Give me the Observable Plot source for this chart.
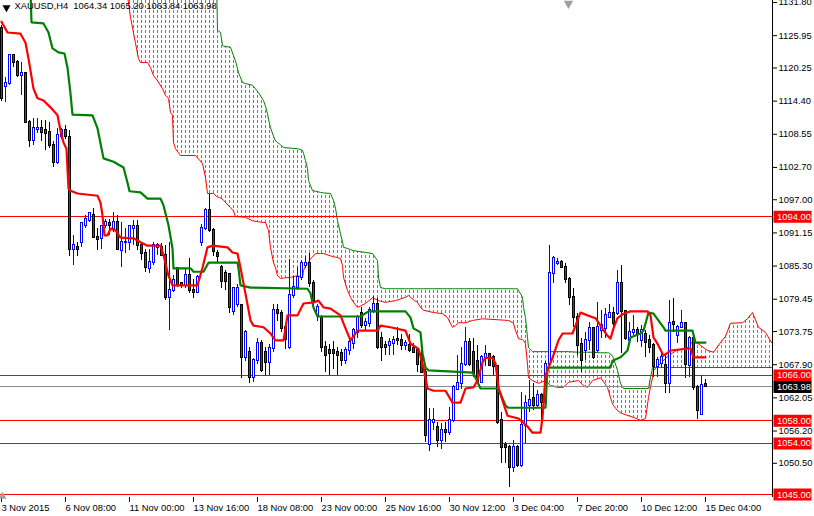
<!DOCTYPE html>
<html><head><meta charset="utf-8">
<script src="https://cdn.jsdelivr.net/npm/d3@7"></script>
<script src="https://cdn.jsdelivr.net/npm/@observablehq/plot@0.6"></script>
<style>
html,body{margin:0;padding:0;background:#fff;}
#chart{width:814px;height:516px;overflow:hidden;}
</style></head><body><div id="chart"></div>
<script>
// ---- OHLC (H4 bars, index 0 = 3 Nov 2015 16:00 ... 176 = 15 Dec 04:00)
const open=[1127.2,1116.9,1117.5,1122.4,1121.3,1118.9,1119.2,1110.7,1107.4,1109.4,1109.5,1109.2,1108.9,1106.6,1103.6,1108.1,1109.2,1108.0,1088.3,1088.6,1089.5,1092.5,1093.3,1094.3,1090.4,1090.1,1092.5,1092.8,1091.9,1093.0,1088.0,1089.4,1089.5,1091.9,1092.2,1088.9,1087.5,1084.8,1086.0,1088.6,1088.6,1087.2,1079.8,1081.0,1084.8,1082.2,1081.9,1083.6,1081.0,
1080.7,1089.5,1092.0,1095.1,1091.6,1087.5,1085.1,1083.9,1083.8,1077.2,1078.6,1078.3,1069.2,1070.1,1065.7,1068.6,1071.6,1070.1,1068.3,1070.7,1077.5,1076.9,1074.5,
1071.0,1080.1,1081.6,1083.3,1085.4,1085.7,1082.2,1076.6,1076.3,1071.0,1070.4,1070.4,1070.1,1069.8,1068.6,1070.4,1071.6,1073.6,1076.9,1074.8,1075.1,1077.5,1078.6,1072.5,1071.2,
1071.3,1071.6,1072.4,1072.2,1071.3,1071.3,1070.7,1070.4,1069.5,1066.6,1053.9,1057.7,1056.9,1054.5,1056.3,1056.0,1058.0,1063.6,1064.5,1068.0,1071.9,1070.1,1068.4,1064.8,1069.0,1069.7,1069.2,1067.5,1058.0,1053.6,1053.3,1049.8,1053.3,1050.1,1057.2,1060.7,1061.9,1060.7,1062.5,1061.3,1068.0,1083.9,1085.7,1086.0,1085.1,1083.0,1079.8,1076.3,1071.5,
1070.4,1072.2,1074.2,1070.4,1073.9,1074.2,1076.3,1076.9,1076.9,1082.2,1077.2,1072.2,1073.6,1073.9,1072.2,1073.3,1072.2,1071.3,1067.5,1068.1,1067.8,1064.5,1075.3,1073.0,1074.5,1075.1,1067.8,1072.5,1063.9,1059.2,1064.34];
const high=[1127.8,1118.6,1122.7,1122.7,1121.5,1121.3,1119.5,1111.0,1111.3,1111.3,1111.0,1111.0,1110.7,1107.2,1109.5,1109.5,1110.1,1109.2,1090.7,1089.5,1093.0,1094.2,1094.8,1095.5,1091.9,1092.5,1093.6,1093.6,1094.8,1094.2,1093.0,1091.9,1092.5,1093.3,1093.3,1089.5,1088.3,1088.3,1089.5,1089.2,1089.2,1088.9,1089.5,1083.6,1085.1,1082.4,1084.8,1086.6,1083.0,
1083.6,1092.6,1095.4,1098.0,1092.0,1088.0,1085.4,1084.5,1084.0,1081.6,1082.0,1078.6,1073.9,1071.0,1069.0,1072.5,1072.2,1071.0,1071.5,1078.6,1078.5,1077.5,1075.0,
1086.5,1083.5,1085.0,1086.2,1087.0,1087.5,1082.8,1078.6,1076.6,1072.0,1071.5,1072.0,1071.0,1070.5,1071.0,1072.5,1074.2,1076.6,1078.0,1076.0,1078.0,1080.0,1079.5,1073.5,1072.0,
1072.5,1072.8,1074.5,1073.3,1072.2,1073.3,1071.6,1070.7,1071.3,1067.0,1060.1,1060.1,1057.7,1057.5,1057.7,1060.4,1064.2,1069.5,1071.0,1074.5,1072.5,1072.5,1071.3,1069.5,1071.3,1069.8,1069.5,1067.8,1059.5,1054.2,1053.6,1054.5,1053.6,1063.0,1062.5,1065.1,1064.5,1063.3,1062.8,1068.4,1088.9,1086.9,1086.6,1086.3,1085.7,1083.3,1081.3,1076.9,1072.5,
1073.6,1075.4,1074.5,1078.9,1077.5,1077.8,1078.6,1078.0,1084.5,1085.4,1077.5,1075.4,1076.6,1074.5,1074.8,1073.9,1073.0,1071.6,1069.2,1070.1,1069.8,1079.2,1079.5,1074.8,1077.5,1075.4,1072.8,1073.3,1064.2,1066.0,1065.20];
const low=[1114.3,1114.2,1117.2,1120.4,1118.6,1115.4,1110.4,1106.3,1106.6,1108.6,1107.2,1105.7,1106.0,1102.7,1103.3,1107.7,1107.7,1086.9,1085.4,1086.9,1088.6,1091.9,1093.0,1090.1,1088.0,1088.3,1091.9,1090.7,1091.3,1088.0,1085.1,1087.5,1088.0,1088.9,1088.0,1086.3,1084.2,1083.9,1085.4,1087.2,1086.9,1079.2,1073.9,1080.7,1081.6,1081.3,1081.3,1080.4,1079.5,
1080.4,1088.8,1091.5,1091.3,1086.9,1085.9,1081.3,1081.0,1077.0,1076.6,1078.0,1065.4,1068.5,1064.5,1064.8,1068.0,1066.5,1065.8,1065.8,1070.0,1075.5,1073.5,1070.5,
1070.5,1079.5,1081.0,1082.8,1084.8,1081.5,1078.0,1075.5,1070.0,1066.5,1066.0,1067.0,1066.0,1067.5,1068.0,1069.5,1070.5,1072.5,1074.2,1074.0,1074.5,1077.0,1070.5,1068.5,1069.5,
1069.5,1069.5,1071.3,1070.4,1070.4,1070.1,1069.8,1066.6,1066.3,1054.2,1052.5,1056.3,1053.3,1053.0,1054.2,1055.4,1057.7,1063.3,1063.6,1067.5,1067.5,1065.7,1064.5,1064.5,1067.5,1067.5,1066.0,1057.4,1050.4,1050.4,1046.3,1048.9,1049.8,1049.8,1053.9,1059.5,1059.8,1060.4,1057.7,1060.7,1067.5,1082.2,1085.4,1084.8,1082.2,1078.3,1074.5,1069.5,1066.5,
1068.6,1070.4,1068.9,1070.1,1072.5,1072.5,1076.0,1074.2,1076.6,1069.8,1072.2,1071.9,1073.0,1071.9,1071.0,1069.2,1069.8,1065.7,1065.7,1067.2,1062.8,1062.8,1073.5,1071.6,1074.2,1065.4,1065.7,1063.3,1058.3,1059.2,1063.84];
const close=[1114.8,1117.5,1122.4,1121.3,1118.9,1119.2,1110.7,1107.4,1109.5,1109.6,1108.9,1108.6,1106.6,1103.6,1108.3,1109.2,1108.1,1088.3,1088.9,1088.2,1092.8,1093.6,1094.5,1090.4,1090.0,1092.2,1093.0,1092.5,1093.0,1088.3,1089.5,1089.5,1092.2,1092.2,1088.9,1087.5,1085.1,1086.0,1088.9,1088.9,1087.2,1079.8,1081.0,1082.8,1081.9,1081.9,1083.6,1081.0,1080.7,
1083.3,1092.0,1095.1,1091.6,1087.8,1086.9,1082.5,1082.5,1078.0,1081.3,1081.3,1069.2,1073.6,1065.7,1068.6,1071.6,1066.9,1068.3,1070.7,1077.5,1076.9,1074.2,1072.4,
1080.1,1081.6,1083.3,1085.7,1085.7,1082.2,1079.2,1078.0,1071.0,1069.5,1069.9,1069.8,1069.5,1068.6,1070.4,1071.9,1073.9,1076.3,1074.8,1075.4,1077.5,1078.6,1071.0,1071.0,1071.0,
1071.9,1072.2,1072.1,1071.3,1071.6,1070.4,1070.1,1068.0,1066.6,1055.4,1058.0,1058.0,1054.5,1056.3,1056.0,1058.0,1063.9,1064.5,1068.0,1071.9,1068.0,1066.3,1064.8,1069.2,1069.7,1067.7,1067.5,1057.7,1053.3,1053.3,1049.8,1053.3,1050.1,1057.2,1061.0,1061.6,1060.7,1062.5,1061.3,1068.0,1083.9,1086.6,1086.0,1085.1,1083.0,1079.8,1076.3,1071.3,1068.6,
1072.2,1074.2,1069.2,1074.5,1074.8,1076.6,1076.9,1075.1,1082.2,1077.2,1072.5,1073.6,1073.9,1073.3,1073.9,1071.9,1071.0,1067.5,1068.6,1069.2,1064.5,1075.1,1075.0,1074.5,1075.1,1068.0,1072.5,1063.9,1059.8,1064.2,1063.98];

// ---- Ichimoku lines (bar position, price)
const tenkanX=[0,1.5,4.75,6,6.75,8,9,10.5,12.25,14,14.75,15.5,16.25,16.75,17.25,19,24,24.75,25.25,25.75,26.5,27.25,28.5,29.75,33,34.75,36.5,39.75,40.5,41.75,42.75,49,50.25,51.5,52.75,56.5,57.75,59,59.75,61,62.25,63,65.5,67.25,68.5,70.5,71.5,74,75.5,78,79.25,80.5,82.25,84.75,85.5,87.25,89,94,94.75,97.25,101,102.25,104.25,105.5,106.5,108,111,112.75,114.75,116,118,119,120.25,121,122.75,123.5,124.25,125.25,126.5,129.25,131.5,132.75,134.75,135.25,136,137.75,139.25,140.25,142.75,144,144.75,146.5,148.5,149.75,151.5,152.25,153,154,155.5,157.25,161.5,162.25,163,164,165.5,166.5,167.25,172.25,173,176];
const tenkanY=[1128.4,1126.5,1126.3,1124.7,1121.9,1116.6,1114.9,1114.5,1113.3,1111.9,1109.2,1107.1,1106.0,1099.0,1098.6,1098.1,1097.7,1096.5,1094.2,1090.7,1090.7,1091.9,1091.6,1090.3,1090.2,1089.5,1088.9,1088.9,1087.2,1083.6,1081.9,1081.9,1085.0,1088.6,1088.9,1088.6,1087.7,1087.5,1085.0,1080.4,1075.7,1074.8,1074.5,1073.4,1072.2,1072.2,1076.6,1076.6,1078.7,1078.9,1079.2,1078.0,1077.8,1076.6,1075.2,1072.2,1073.9,1073.9,1074.8,1074.5,1073.9,1071.6,1070.7,1067.4,1063.7,1063.3,1063.3,1061.2,1061.2,1063.7,1063.9,1065.1,1068.3,1069.1,1069.1,1068.1,1063.9,1061.6,1058.9,1058.4,1057.0,1055.9,1055.9,1058.6,1066.0,1069.1,1072.2,1073.4,1073.4,1075.7,1077.1,1076.6,1076.1,1074.8,1073.0,1072.5,1074.3,1076.1,1076.9,1077.3,1077.3,1076.6,1072.7,1071.6,1069.5,1070.0,1070.4,1070.8,1069.2,1069.2];
const kijunX=[0,7.25,7.5,10.5,11.75,12.75,14.25,15.75,16.5,17.25,17.75,22.75,24,25.5,28,30.5,31.5,32,34.75,36.5,39.75,40.5,41.75,42.75,43,47.25,48,50.5,51.75,59,59.25,59.75,62.25,76.5,77.25,78,79,89.75,91.75,101,102.25,103,104.75,105.25,106,106.75,117.75,118.5,119.75,124,124.75,126,126.75,136,136.5,152.25,152.75,154.75,156.5,157.25,159.75,160.5,161.75,163,165.5,166,172.75,173.5,176];
const kijunY=[1133.9,1133.9,1128.3,1128.1,1126.5,1123.7,1123.0,1122.8,1120.3,1115.7,1112.0,1111.9,1109.6,1104.3,1103.7,1102.7,1100.0,1098.5,1098.3,1097.2,1097.2,1096.0,1092.5,1088.4,1084.9,1084.9,1084.3,1084.3,1085.9,1085.9,1084.9,1081.9,1081.5,1081.3,1080.5,1078.0,1076.4,1076.4,1077.3,1077.3,1076.2,1074.3,1073.6,1069.9,1067.4,1066.9,1066.5,1065.6,1063.7,1063.7,1062.8,1060.7,1060.3,1060.3,1067.4,1067.4,1068.6,1069.2,1070.4,1072.7,1073.4,1073.9,1077.1,1076.9,1074.5,1073.9,1073.9,1071.8,1071.8];
const cloudX=[31.5,32.25,33.5,34.25,34.75,36.5,37.25,38,39,40.25,41,41.75,42.25,42.75,43,43.5,44.75,48.5,50.25,51,51.5,53,53.75,54,54.75,55.25,55.5,57.25,58,58.5,59.25,60.25,61,62.75,64.25,65.5,66,66.5,66.75,67.25,68,68.5,69,69.75,70.5,72.25,74,75.25,75.5,76,76.5,76.75,77.25,77.75,78.5,79.75,80.5,82.25,83,83.5,84,84.75,85.25,85.5,86.5,87.25,88,89,91,92.75,94,94.25,94.75,96,98.5,101,101.75,103.25,104,104.75,105.5,108,110.25,111.5,112.75,113.5,114.25,116,117.75,120.25,126.75,128,128.5,129,129.25,130.25,130.5,131,131.5,131.75,132.75,134.25,136,137.25,139,140.5,141.75,144.25,145.5,146.5,147.75,149.75,151.5,151.75,152.25,152.75,153,154,154.75,155.5,158,159.75,161,161.75,162.25,162.75,163,164.75,166.75,168.75,171.5,173,174.75,176.5,178,179.75,181,182.25,185.25,186.5,187.75,189.25,191,192.5];
const spanA=[1133.0,1129.2,1124.6,1121.9,1121.2,1121.2,1120.3,1118.9,1118.0,1116.6,1115.4,1114.9,1112.4,1111.9,1107.1,1106.0,1104.8,1104.8,1103.4,1100.9,1098.1,1098.1,1097.6,1097.5,1097.3,1097.1,1096.9,1095.6,1095.0,1094.0,1094.0,1093.95,1093.9,1093.3,1093.1,1093.0,1093.0,1092.0,1091.6,1088.6,1085.9,1085.0,1083.6,1083.1,1083.2,1083.3,1083.6,1083.3,1084.5,1085.3,1085.7,1086.0,1086.6,1086.9,1087.5,1087.5,1087.5,1087.1,1086.9,1086.9,1086.8,1086.6,1085.4,1083.3,1081.0,1079.8,1078.9,1078.0,1078.7,1079.7,1079.3,1079.2,1079.1,1078.9,1079.2,1079.8,1080.1,1079.2,1078.9,1078.0,1077.5,1077.1,1076.9,1076.2,1074.5,1074.8,1075.3,1075.3,1075.7,1076.0,1075.7,1075.2,1073.9,1073.0,1072.5,1072.3,1072.2,1071.6,1068.0,1065.6,1065.1,1064.6,1065.1,1064.2,1063.9,1063.9,1064.8,1065.1,1064.2,1063.9,1065.1,1065.6,1063.9,1063.3,1062.1,1061.0,1060.7,1059.8,1059.4,1059.2,1058.6,1058.1,1058.4,1062.1,1064.0,1065.6,1066.9,1068.1,1069.5,1070.4,1070.9,1072.2,1071.3,1070.4,1070.1,1071.8,1072.9,1075.2,1075.3,1076.0,1077.1,1074.5,1073.6,1071.8];
const spanB=[1136,1136,1136,1136,1136,1136,1136,1136,1136,1136,1136,1136,1136,1136,1136,1136,1136,1136,1136,1136,1136,1136,1136,1126.9,1126.5,1124.2,1124.1,1123.9,1122.4,1121.5,1119.4,1117.7,1117.5,1117.2,1115.9,1114.5,1113.5,1112.2,1111.2,1109.7,1108.2,1107.4,1107.1,1106.7,1106.2,1106.1,1106.0,1105.7,1105.2,1103.9,1102.5,1100.4,1099.5,1098.6,1098.5,1098.3,1098.2,1098.1,1096.9,1095.5,1093.3,1091.0,1089.5,1088.6,1088.4,1088.2,1088.0,1087.9,1087.7,1087.5,1086.3,1083.3,1081.5,1081.3,1081.3,1081.3,1081.3,1081.3,1081.3,1081.3,1081.3,1081.3,1081.3,1081.3,1081.3,1081.3,1081.3,1081.3,1081.3,1081.3,1081.3,1081.3,1081.3,1081.3,1081.0,1079.8,1078.0,1076.2,1072.7,1070.9,1070.2,1070.2,1070.2,1070.2,1070.2,1070.2,1070.2,1070.1,1070.1,1070.1,1070.1,1070.0,1070.0,1070.0,1069.8,1069.4,1069.0,1066.9,1064.6,1063.7,1063.7,1063.7,1063.7,1063.7,1065.6,1067.4,1067.4,1067.4,1067.4,1067.4,1067.4,1067.4,1067.4,1067.4,1067.4,1067.4,1067.4,1067.4,1067.4,1067.4,1067.4,1067.4,1067.4,1067.4];

// ---- levels, axis ticks, labels
const levels=[1094.00,1066.00,1058.00,1054.00,1045.00];
const lastPrice=1063.98;
const yTicks=[1131.80,1125.95,1120.25,1114.40,1108.55,1102.70,1097.00,1091.15,1085.30,1079.45,1073.75,1067.90,1062.05,1056.20,1050.50];
const xTickBars=[0,16,32,48,64,80,96,112,128,144,160,176];
const xTickLabels=["3 Nov 2015","6 Nov 08:00","11 Nov 00:00","13 Nov 16:00","18 Nov 08:00","23 Nov 00:00","25 Nov 16:00","30 Nov 12:00","3 Dec 04:00","7 Dec 20:00","10 Dec 12:00","15 Dec 04:00"];
const titleText="XAUUSD,H4  1064.34 1065.20 1063.84 1063.98";

// ---- build tables
const candles=open.map((o,i)=>({i,o,h:high[i],l:low[i],c:close[i]}));
const bull=d=>d.c>=d.o;
const tenkan=tenkanX.map((x,k)=>({x,y:tenkanY[k]}));
const kijun=kijunX.map((x,k)=>({x,y:kijunY[k]}));
const cloud=cloudX.map((x,k)=>({x,a:spanA[k],b:spanB[k]}));
const labelOf=new Map(xTickBars.map((b,k)=>[b,xTickLabels[k]]));
const xDom=[-0.25,192.75];
const yDom=[1044.47,1132.15];
const boxX1=193.125, boxX2=202.625, boxTextX=193.9;

const chart=Plot.plot({
  width:814,height:516,marginTop:0,marginLeft:0,marginRight:42,marginBottom:19,
  x:{domain:xDom,axis:null},
  y:{domain:yDom,axis:null},
  style:{fontFamily:"'Liberation Sans', Arial, sans-serif",fontSize:"9.4px",background:"#ffffff",color:"#000"},
  marks:[
    Plot.areaY(cloud,{x:"x",y1:"a",y2:d=>Math.max(d.a,d.b),fill:"url(#hatchOrange)",clip:true}),
    Plot.areaY(cloud,{x:"x",y1:"b",y2:d=>Math.max(d.a,d.b),fill:"url(#hatchGreen)",clip:true}),
    Plot.line(cloud,{x:"x",y:"a",stroke:"#ff0000",strokeWidth:1,clip:true}),
    Plot.line(cloud,{x:"x",y:"b",stroke:"#008000",strokeWidth:1,clip:true}),
    Plot.ruleY(levels,{stroke:"#ff0000",strokeWidth:1,shapeRendering:"crispEdges"}),
    Plot.ruleY([lastPrice],{stroke:"#8c8c8c",strokeWidth:1,shapeRendering:"crispEdges"}),
    Plot.ruleX(candles,{x:"i",y1:"l",y2:"h",stroke:d=>bull(d)?"#0000ff":"#000000",strokeWidth:1,shapeRendering:"crispEdges",clip:true}),
    Plot.rect(candles,{x1:d=>d.i-0.25,x2:d=>d.i+0.25,y1:"o",y2:"c",fill:d=>bull(d)?"#ffffff":"#ff0000",stroke:d=>bull(d)?"#0000ff":"#000000",strokeWidth:1,insetTop:-0.5,insetBottom:-0.5,shapeRendering:"crispEdges",clip:true}),
    Plot.line(kijun,{x:"x",y:"y",stroke:"#008000",strokeWidth:2.2,clip:true}),
    Plot.line(tenkan,{x:"x",y:"y",stroke:"#ff0000",strokeWidth:2.2,clip:true}),
    Plot.ruleX([xDom[1]],{stroke:"#000",strokeWidth:1,shapeRendering:"crispEdges"}),
    Plot.axisY(yTicks,{anchor:"right",tickSize:4,tickPadding:2,tickFormat:d=>d.toFixed(2),fill:"#000",stroke:"#000"}),
    Plot.axisX(xTickBars,{anchor:"bottom",tickSize:5,tickPadding:2,tickFormat:d=>labelOf.get(d),textAnchor:"start",fill:"#000",stroke:"#000"}),
    Plot.ruleY(levels,{x1:boxX1,x2:boxX2,stroke:"#ff0000",strokeWidth:12,clip:false}),
    Plot.text(levels,{x:boxTextX,y:d=>d,text:d=>d.toFixed(2),fill:"#ffffff",textAnchor:"start",clip:false}),
    Plot.ruleY([lastPrice],{x1:boxX1,x2:boxX2,stroke:"#000000",strokeWidth:12,clip:false}),
    Plot.text([lastPrice],{x:boxTextX,y:d=>d,text:d=>d.toFixed(2),fill:"#ffffff",textAnchor:"start",clip:false}),
    Plot.text([titleText],{frameAnchor:"top-left",dx:14,dy:2,text:d=>d,textAnchor:"start",lineAnchor:"top",fill:"#000"}),
    Plot.dot([titleText],{frameAnchor:"top-left",dx:6,dy:7,symbol:"triangle",r:3,rotate:180,fill:"#000",stroke:null}),
    Plot.dot([titleText],{frameAnchor:"top-left",dx:568,dy:3,symbol:"triangle",r:3.5,rotate:180,fill:"#a0a0a0",stroke:null}),
    Plot.dot([titleText],{frameAnchor:"bottom-left",dx:2,dy:-1,symbol:"triangle",r:3,fill:"#a0a0a0",stroke:null})
  ]
});
document.getElementById("chart").appendChild(chart);
const svgNS="http://www.w3.org/2000/svg";
const defs=document.createElementNS(svgNS,"defs");
function hatch(id,color){
  const p=document.createElementNS(svgNS,"pattern");
  p.setAttribute("id",id);
  p.setAttribute("patternUnits","userSpaceOnUse");
  p.setAttribute("x","0");
  p.setAttribute("y","0");
  p.setAttribute("width","4");
  p.setAttribute("height","5");
  const r=document.createElementNS(svgNS,"rect");
  r.setAttribute("x","1");
  r.setAttribute("y","0");
  r.setAttribute("width","1");
  r.setAttribute("height","3");
  r.setAttribute("style","fill:"+color+";stroke:none");
  p.appendChild(r);
  defs.appendChild(p);
}
hatch("hatchOrange","#ff5000");
hatch("hatchGreen","#2eb267");
chart.insertBefore(defs,chart.firstChild);
</script></body></html>
